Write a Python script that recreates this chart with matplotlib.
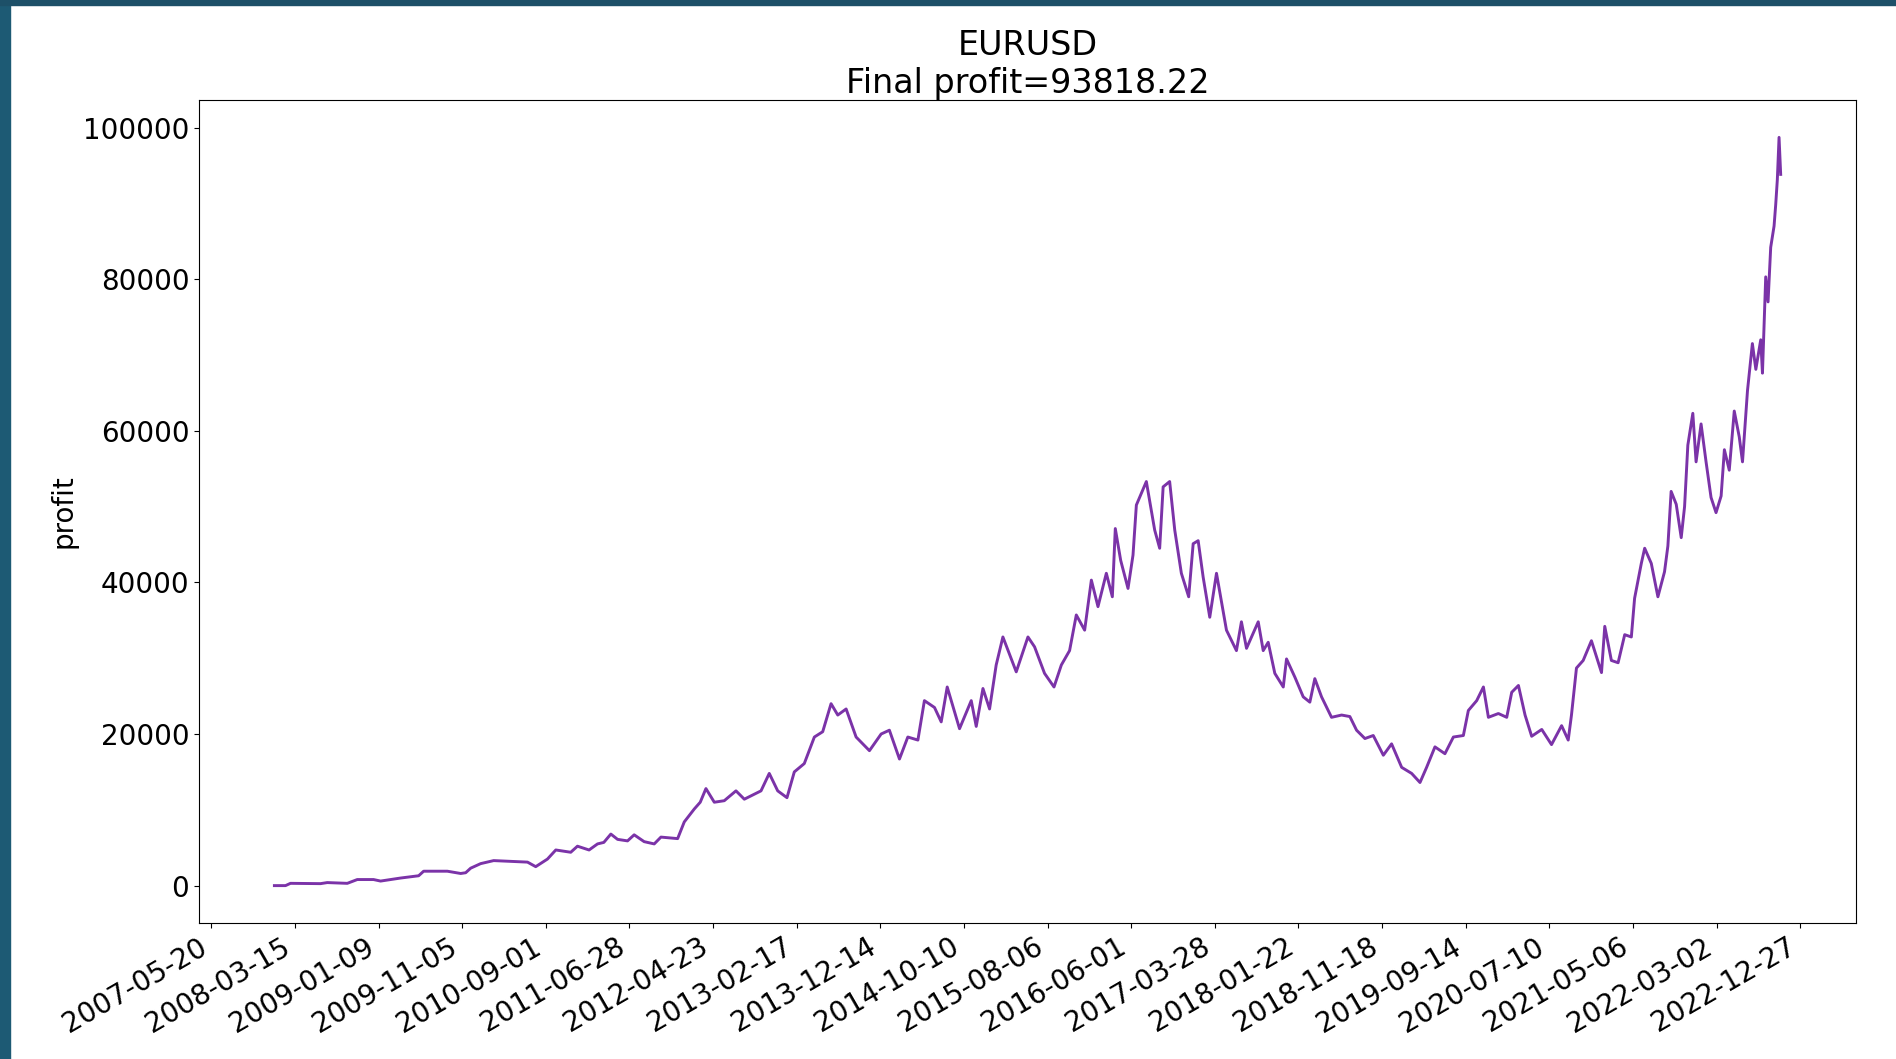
import matplotlib.pyplot as plt
import matplotlib.patches as patches
import pandas as pd

plt.rcParams.update({"font.size": 20})

symbol = "EURUSD"
final_profit = 93818.22

# decimal year of each point
years = [
    2008.000, 2008.109, 2008.158, 2008.453, 2008.519, 2008.716, 2008.814, 2008.974,
    2009.043, 2009.240, 2009.417, 2009.466, 2009.699, 2009.830, 2009.879, 2009.928,
    2010.026, 2010.154, 2010.486, 2010.567, 2010.682, 2010.764, 2010.911, 2010.977,
    2011.091, 2011.174, 2011.236, 2011.305, 2011.371, 2011.469, 2011.534, 2011.632,
    2011.731, 2011.797, 2011.961, 2012.026, 2012.124, 2012.183, 2012.239, 2012.321,
    2012.419, 2012.534, 2012.616, 2012.780, 2012.861, 2012.944, 2013.035, 2013.107,
    2013.205, 2013.304, 2013.386, 2013.468, 2013.534, 2013.616, 2013.714, 2013.845,
    2013.960, 2014.041, 2014.140, 2014.222, 2014.321, 2014.385, 2014.484, 2014.550,
    2014.609, 2014.730, 2014.845, 2014.894, 2014.960, 2015.025, 2015.090, 2015.156,
    2015.287, 2015.402, 2015.467, 2015.565, 2015.658, 2015.730, 2015.811, 2015.877,
    2015.959, 2016.025, 2016.090, 2016.172, 2016.231, 2016.260, 2016.313, 2016.385,
    2016.434, 2016.467, 2016.565, 2016.647, 2016.696, 2016.730, 2016.794, 2016.844,
    2016.909, 2016.981, 2017.025, 2017.074, 2017.123, 2017.188, 2017.254, 2017.352,
    2017.450, 2017.499, 2017.549, 2017.664, 2017.713, 2017.762, 2017.827, 2017.910,
    2017.942, 2018.024, 2018.106, 2018.171, 2018.220, 2018.286, 2018.384, 2018.483,
    2018.564, 2018.630, 2018.712, 2018.794, 2018.893, 2018.974, 2019.073, 2019.171,
    2019.253, 2019.318, 2019.400, 2019.498, 2019.581, 2019.679, 2019.728, 2019.810,
    2019.876, 2019.925, 2020.023, 2020.105, 2020.154, 2020.220, 2020.285, 2020.350,
    2020.449, 2020.545, 2020.644, 2020.709, 2020.741, 2020.790, 2020.856, 2020.937,
    2021.036, 2021.068, 2021.133, 2021.199, 2021.264, 2021.329, 2021.361, 2021.427,
    2021.460, 2021.525, 2021.590, 2021.655, 2021.688, 2021.720, 2021.770, 2021.819,
    2021.852, 2021.884, 2021.933, 2021.965, 2022.014, 2022.063, 2022.112, 2022.161,
    2022.211, 2022.243, 2022.291, 2022.340, 2022.389, 2022.421, 2022.470, 2022.518,
    2022.552, 2022.600, 2022.617, 2022.649, 2022.672, 2022.698, 2022.731, 2022.747,
    2022.763, 2022.780, 2022.796,
]

profit = [
    0, 0, 300, 260, 400, 300, 800, 800,
    600, 1000, 1300, 1900, 1900, 1600, 1700, 2300,
    2900, 3300, 3100, 2500, 3500, 4700, 4400, 5200,
    4700, 5500, 5700, 6800, 6100, 5900, 6700, 5800,
    5500, 6400, 6200, 8400, 10100, 11000, 12800, 11000,
    11200, 12500, 11400, 12500, 14800, 12500, 11600, 15000,
    16100, 19600, 20300, 24000, 22500, 23300, 19600, 17800,
    20000, 20500, 16700, 19600, 19200, 24400, 23500, 21600,
    26200, 20700, 24400, 21000, 26000, 23300, 29100, 32800,
    28200, 32800, 31500, 28000, 26200, 29100, 31000, 35700,
    33700, 40300, 36800, 41200, 38100, 47100, 42900, 39200,
    43600, 50200, 53300, 46900, 44500, 52600, 53300, 46900,
    41200, 38100, 45100, 45500, 40700, 35400, 41200, 33700,
    31000, 34800, 31300, 34800, 31000, 32100, 28000, 26200,
    29900, 27500, 24900, 24200, 27300, 24900, 22200, 22500,
    22300, 20500, 19400, 19800, 17200, 18700, 15600, 14800,
    13600, 15600, 18300, 17400, 19600, 19800, 23100, 24400,
    26200, 22200, 22700, 22200, 25500, 26400, 22500, 19700,
    20600, 18600, 21100, 19200, 22500, 28700, 29700, 32300,
    28100, 34200, 29700, 29400, 33100, 32800, 37900, 42500,
    44500, 42500, 38100, 41400, 44800, 52000, 50300, 45900,
    50000, 58100, 62300, 55900, 60900, 55900, 51200, 49200,
    51400, 57500, 54800, 62600, 59200, 55900, 65300, 71500,
    68100, 72000, 67600, 80300, 77000, 84200, 87000, 89800,
    93100, 98700, 93818.22,
]

tick_labels = [
    "2007-05-20", "2008-03-15", "2009-01-09", "2009-11-05", "2010-09-01",
    "2011-06-28", "2012-04-23", "2013-02-17", "2013-12-14", "2014-10-10",
    "2015-08-06", "2016-06-01", "2017-03-28", "2018-01-22", "2018-11-18",
    "2019-09-14", "2020-07-10", "2021-05-06", "2022-03-02", "2022-12-27",
]

start = pd.Timestamp("2008-01-01")
dates = [start + pd.Timedelta(days=(y - 2008) * 365.25) for y in years]

fig = plt.figure(figsize=(18.96, 10.59), dpi=100)
ax = fig.add_axes([0.105, 0.1284, 0.8739, 0.7772])
ax.plot(dates, profit, color="#7b33a8", linewidth=2.1)

ax.set_title(f"{symbol}\nFinal profit={final_profit}", fontsize=24, pad=5)
ax.set_ylabel("profit")
ax.set_yticks([0, 20000, 40000, 60000, 80000, 100000])
ax.set_xticks(pd.to_datetime(tick_labels), labels=tick_labels)
plt.setp(ax.get_xticklabels(), rotation=30, ha="right")

# dark frame of the screenshot
fig.patches.append(patches.Rectangle((0, 0), 10 / 1896, 1, transform=fig.transFigure,
                                     color="#1d5a74", zorder=10))
fig.patches.append(patches.Rectangle((0, 1 - 5 / 1059), 1, 5 / 1059, transform=fig.transFigure,
                                     color="#1d5068", zorder=10))

fig.savefig("out.png", dpi=100)
